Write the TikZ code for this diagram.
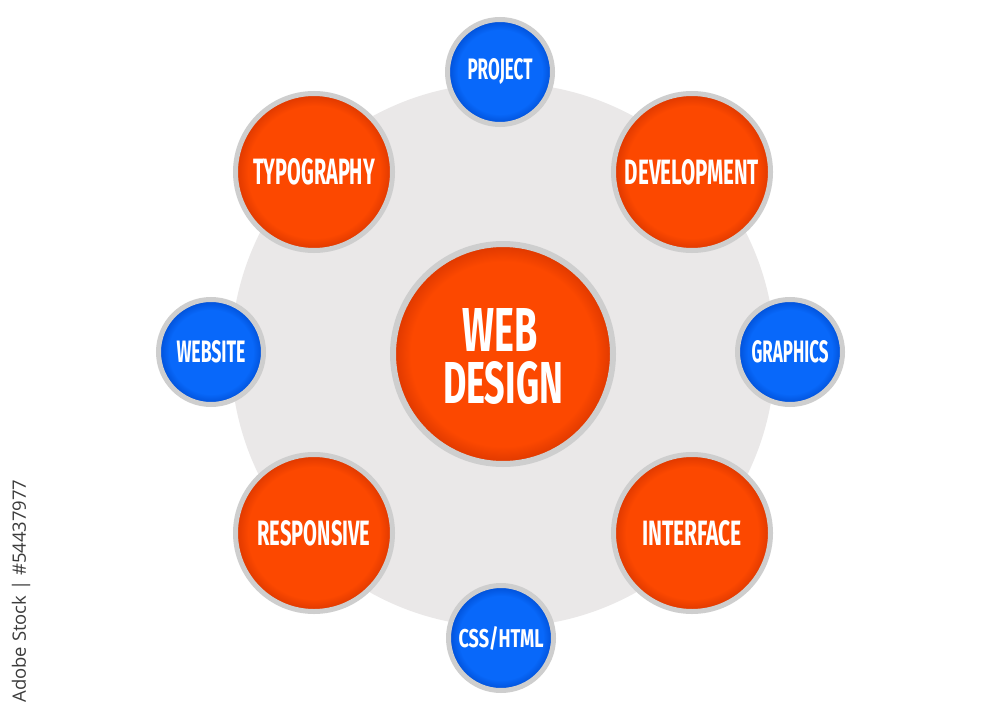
\documentclass[tikz,border=0pt]{standalone}
\usepackage{fontspec}
\setmainfont{Fira Sans}
\newfontfamily\stockfont{Open Sans}
\usepackage{graphicx}
\definecolor{bggray}{RGB}{234,232,232}
\definecolor{ringgray}{RGB}{206,206,206}
\definecolor{orng}{RGB}{252,72,0}
\definecolor{orngd}{RGB}{220,55,0}
\definecolor{blu}{RGB}{8,104,250}
\definecolor{blud}{RGB}{0,78,212}
\definecolor{stockgray}{RGB}{60,60,60}
\pgfdeclareradialshading{shorng}{\pgfpoint{0bp}{0bp}}{color(0bp)=(orng);color(21bp)=(orng);color(25bp)=(orngd);color(50bp)=(orngd)}
\pgfdeclareradialshading{shblu}{\pgfpoint{0bp}{0bp}}{color(0bp)=(blu);color(20bp)=(blu);color(25bp)=(blud);color(50bp)=(blud)}
\newcommand{\lbl}[3]{\resizebox{#1pt}{#2pt}{\bfseries #3}}
\begin{document}
\begin{tikzpicture}[x=1pt,y=-1pt,
  bubble/.style={circle,draw=ringgray,inner sep=0pt,text=white},
  obub/.style={bubble,shading=shorng,line width=5pt,minimum size=157pt},
  bbub/.style={bubble,shading=shblu,line width=5pt,minimum size=105pt},
  cbub/.style={bubble,shading=shorng,line width=6pt,minimum size=220pt},
  txt/.style={inner sep=0pt,text=white}]
\useasboundingbox (0,0) rectangle (1000,714);
\fill[white] (0,0) rectangle (1000,714);
\fill[bggray] (503,355) circle[radius=272pt];
% center
\node[cbub] (center) at (503,354) {};
\node[txt] (webdesign) at (503,356.5) {\vbox{\offinterlineskip
  \hbox to 120pt{\hss\lbl{75}{43}{WEB}\hss\hskip6pt}
  \vskip10pt
  \hbox to 120pt{\lbl{120}{42}{DESIGN}}}};
% orange
\node[obub] (typo) at (314,172) {\lbl{122}{26}{TYPOGRAPHY}};
\node[obub] (dev) at (692,172) {\lbl{134}{25}{DEVELOPMENT}};
\node[obub] (resp) at (314,533) {\lbl{113}{25}{RESPONSIVE}};
\node[obub] (inter) at (692,533) {\lbl{100}{25}{INTERFACE}};
% blue
\node[bbub] (proj) at (500,72) {\lbl{65}{21}{PROJECT}};
\node[bbub] (webs) at (211,352) {\lbl{69}{22}{WEBSITE}};
\node[bbub] (graph) at (790,352) {\lbl{77}{22}{GRAPHICS}};
\node[bbub] (css) at (501,638) {\lbl{85}{21}{CSS/HTML}};
% side text
\node[rotate=90,inner sep=0pt,text=stockgray] (stock) at (21,591) {\resizebox{223pt}{!}{\stockfont Adobe Stock | \#54437977}};
\end{tikzpicture}
\end{document}
